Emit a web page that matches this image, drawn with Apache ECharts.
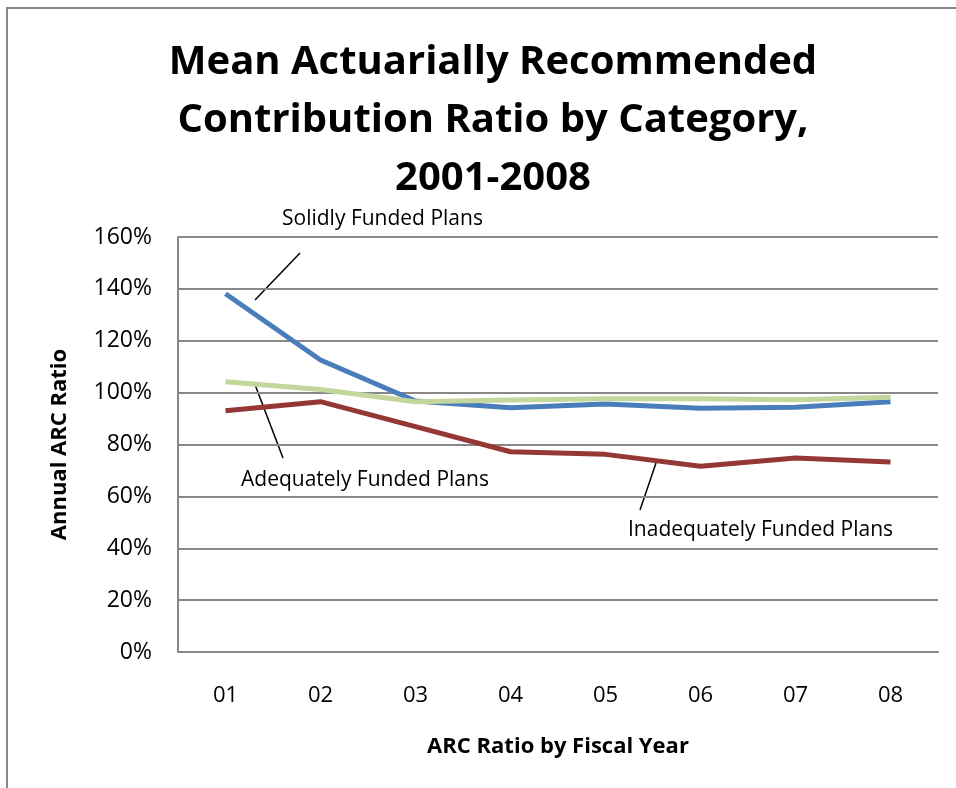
<!DOCTYPE html>
<html>
<head>
<meta charset="utf-8">
<script src="https://cdn.jsdelivr.net/npm/echarts@6/dist/echarts.min.js"></script>
<style>
  html, body { margin: 0; padding: 0; background: #ffffff; }
  #chart { width: 956px; height: 788px; }
</style>
</head>
<body>
<div id="chart"></div>
<script>
// Fiscal years (2001-2008) and mean ARC ratios (%) per funding category
const years = ['01', '02', '03', '04', '05', '06', '07', '08'];
const solidlyFunded = [138.1, 112.6, 96.8, 94.2, 95.6, 94.0, 94.4, 96.5];
const inadequatelyFunded = [93.0, 96.5, 86.9, 77.2, 76.2, 71.6, 74.8, 73.3];
const adequatelyFunded = [104.2, 101.2, 96.5, 97.2, 97.6, 97.6, 97.3, 98.2];
const yTicks = [0, 20, 40, 60, 80, 100, 120, 140, 160];

const FONT = '"Open Sans", "Noto Sans", sans-serif';
const GRAY = '#888888';

const chart = echarts.init(document.getElementById('chart'), null, { renderer: 'canvas' });

const option = {
  backgroundColor: '#ffffff',
  animation: false,
  title: {
    text: 'Mean Actuarially Recommended\nContribution Ratio by Category,\n2001-2008',
    left: 488,
    top: 29,
    textAlign: 'center',
    textStyle: {
      fontFamily: FONT,
      fontWeight: 'bold',
      fontSize: 40,
      lineHeight: 58,
      color: '#000000'
    }
  },
  grid: { left: 178, right: 18, top: 237, bottom: 136, containLabel: false },
  xAxis: {
    type: 'category',
    data: years,
    boundaryGap: true,
    axisLine: { lineStyle: { color: GRAY, width: 2 } },
    axisTick: { show: false },
    axisLabel: { margin: 33, fontFamily: FONT, fontSize: 22, color: '#000000' },
    name: 'ARC Ratio by Fiscal Year',
    nameLocation: 'middle',
    nameGap: 84,
    nameTextStyle: { fontFamily: FONT, fontSize: 22, fontWeight: 'bold', color: '#000000' }
  },
  yAxis: {
    type: 'value',
    min: yTicks[0],
    max: yTicks[yTicks.length - 1],
    interval: yTicks[1] - yTicks[0],
    axisLine: { show: true, lineStyle: { color: GRAY, width: 2 } },
    axisTick: { show: false },
    splitLine: { lineStyle: { color: GRAY, width: 2 } },
    axisLabel: { margin: 26, fontFamily: FONT, fontSize: 23, color: '#000000', formatter: '{value}%' },
    name: 'Annual ARC Ratio',
    nameLocation: 'middle',
    nameGap: 107,
    nameTextStyle: { fontFamily: FONT, fontSize: 22, fontWeight: 'bold', color: '#000000' }
  },
  series: [
    {
      name: 'Solidly Funded Plans',
      type: 'line',
      data: solidlyFunded,
      symbol: 'none',
      lineStyle: { color: '#4a7ebb', width: 5 },
      z: 2
    },
    {
      name: 'Inadequately Funded Plans',
      type: 'line',
      data: inadequatelyFunded,
      symbol: 'none',
      lineStyle: { color: '#953735', width: 5 },
      z: 3
    },
    {
      name: 'Adequately Funded Plans',
      type: 'line',
      data: adequatelyFunded,
      symbol: 'none',
      lineStyle: { color: '#c3d69b', width: 5 },
      z: 4
    }
  ],
  graphic: [
    // outer frame (top and left edges visible)
    {
      type: 'polyline',
      shape: { points: [[7, 800], [7, 8], [960, 8]] },
      style: { stroke: GRAY, lineWidth: 2, fill: null },
      silent: true
    },
    // callouts
    {
      type: 'text', left: 282, top: 209,
      style: { text: 'Solidly Funded Plans', font: '21px ' + FONT, fill: '#000000' }
    },
    {
      type: 'line', shape: { x1: 300, y1: 253, x2: 255, y2: 300 },
      style: { stroke: '#000000', lineWidth: 1.5 }
    },
    {
      type: 'text', left: 241, top: 470,
      style: { text: 'Adequately Funded Plans', font: '21px ' + FONT, fill: '#000000' }
    },
    {
      type: 'line', shape: { x1: 254, y1: 382, x2: 283, y2: 458 },
      style: { stroke: '#000000', lineWidth: 1.5 }
    },
    {
      type: 'text', left: 628, top: 520,
      style: { text: 'Inadequately Funded Plans', font: '21px ' + FONT, fill: '#000000' }
    },
    {
      type: 'line', shape: { x1: 656, y1: 463, x2: 640, y2: 510 },
      style: { stroke: '#000000', lineWidth: 1.5 }
    }
  ]
};

chart.setOption(option);
</script>
</body>
</html>
